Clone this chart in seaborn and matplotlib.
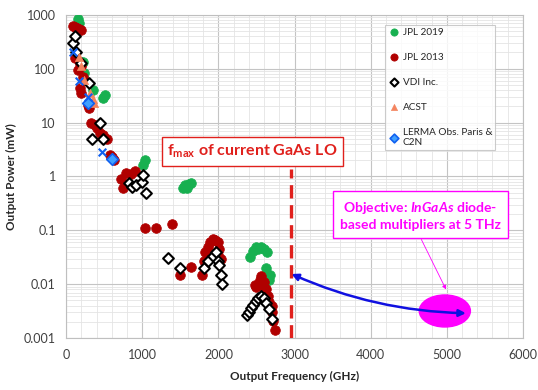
"""Output power vs output frequency of frequency multipliers (log scale)."""

import numpy as np
import pandas as pd
import matplotlib.pyplot as plt
import seaborn as sns
from matplotlib.ticker import MultipleLocator, LogLocator, FuncFormatter
from matplotlib.patches import Ellipse, FancyArrowPatch

# JPL 2019
jpl19_f = [160, 175, 215, 240, 350, 480, 505, 1010, 1030,
           1530, 1560, 1590, 1620, 1640,
           2410, 2450, 2490, 2520, 2560, 2600, 2640, 2630, 2660, 2680]
jpl19_p = [850, 700, 135, 85, 41, 29, 33, 1.6, 2.0,
           0.62, 0.7, 0.6, 0.72, 0.75,
           0.032, 0.042, 0.05, 0.045, 0.05, 0.045, 0.04, 0.02, 0.012, 0.015]

# JPL 2013
jpl13_f = [90, 110, 140, 170, 190, 110, 150, 177, 200, 220, 180, 200, 285, 300,
           330, 375, 400, 440, 480, 530, 580, 600, 630,
           720, 740, 790, 850, 900, 1030, 1180, 1390,
           1490, 1640, 1790, 1810, 1830, 1860, 1890, 1925, 1960, 1990, 2010, 2040, 2000,
           2480, 2500, 2550, 2560, 2580, 2600, 2620, 2650, 2670, 2700, 2710, 2720, 2740]
jpl13_p = [620, 600, 560, 540, 520, 160, 95, 120, 110, 70, 44, 35, 21, 19,
           10, 9, 8, 6.5, 6, 5, 2.5, 2.3, 2.0,
           0.9, 0.6, 1.15, 1.1, 1.25, 0.11, 0.11, 0.13,
           0.015, 0.021, 0.015, 0.027, 0.04, 0.05, 0.06, 0.068, 0.065, 0.06, 0.045, 0.029, 0.035,
           0.0095, 0.009, 0.012, 0.014, 0.0093, 0.011, 0.008, 0.006, 0.0047, 0.004, 0.003, 0.0021, 0.0014]

# VDI Inc.
vdi_f = [90, 110, 135, 200, 300, 440, 345, 480, 830, 870, 920, 990, 1010, 1050,
         1340, 1500, 1810, 1860, 1925, 1970, 1990, 2010, 2040, 2050,
         2370, 2400, 2430, 2450, 2490, 2520, 2560, 2600, 2630, 2670, 2700]
vdi_p = [300, 410, 205, 125, 55, 10, 5, 5, 0.77, 0.65, 0.7, 0.8, 1.05, 0.5,
         0.031, 0.02, 0.02, 0.027, 0.033, 0.039, 0.027, 0.023, 0.015, 0.01,
         0.0027, 0.0031, 0.0036, 0.0042, 0.0048, 0.0055, 0.006, 0.0055, 0.0045, 0.0035, 0.0023]

# ACST
acst_f = [175, 200, 240, 310, 350, 370]
acst_p = [165, 110, 63, 36, 27, 23]

# LERMA Obs. Paris & C2N
lerma_f = [285, 600]
lerma_p = [23, 2.1]
lerma_x_f = [90, 170, 290, 470]
lerma_x_p = [200, 60, 30, 2.8]

fmax_ghz = 2950

sns.set_style("white")
plt.rcParams['font.family'] = ['Lato', 'DejaVu Sans']
plt.rcParams['mathtext.fontset'] = 'custom'
plt.rcParams['mathtext.rm'] = 'Lato'
plt.rcParams['mathtext.bf'] = 'Lato:bold'
plt.rcParams['mathtext.it'] = 'Lato:italic'
plt.rcParams['mathtext.bfit'] = 'Lato:italic:bold'

fig, ax = plt.subplots(figsize=(5.38, 3.9), dpi=100)
fig.subplots_adjust(left=0.123, right=0.972, top=0.962, bottom=0.133)

green = '#17b050'
red = '#b00000'
orange = '#f4845f'
blue = '#1060f0'

sns.scatterplot(x=jpl19_f, y=jpl19_p, ax=ax, color=green, edgecolor=green,
                s=48, marker='o', label='JPL 2019', zorder=3)
sns.scatterplot(x=jpl13_f, y=jpl13_p, ax=ax, color=red, edgecolor=red,
                s=48, marker='o', label='JPL 2013', zorder=3)
sns.scatterplot(x=vdi_f, y=vdi_p, ax=ax, color='white', edgecolor='black',
                linewidth=1.5, s=30, marker='D', label='VDI Inc.', zorder=4)
sns.scatterplot(x=acst_f, y=acst_p, ax=ax, color=orange, edgecolor=orange,
                s=35, marker='^', label='ACST', zorder=4)
sns.scatterplot(x=lerma_f, y=lerma_p, ax=ax, color='#3fa0ff', edgecolor=blue,
                linewidth=1.2, s=35, marker='D', label='LERMA Obs. Paris &\nC2N', zorder=5)
sns.scatterplot(x=lerma_x_f, y=lerma_x_p, ax=ax, color=blue,
                s=30, marker='x', linewidth=1.5, legend=False, zorder=5)

ax.set_yscale('log')
ax.set_xlim(0, 6000)
ax.set_ylim(0.001, 1000)
ax.xaxis.set_major_locator(MultipleLocator(1000))
ax.xaxis.set_minor_locator(MultipleLocator(200))
ax.yaxis.set_minor_locator(LogLocator(base=10, subs=np.arange(2, 10)))
ax.yaxis.set_major_formatter(FuncFormatter(lambda v, _: '{:g}'.format(v)))
ax.grid(which='major', color='#c4c4c4', lw=0.8)
ax.grid(which='minor', color='#e4e4e4', lw=0.6)
ax.set_axisbelow(True)
for s in ax.spines.values():
    s.set_color('#bfbfbf')
ax.tick_params(axis='y', which='major', length=4, color='#bfbfbf', labelsize=9, labelcolor='#404040')
ax.tick_params(axis='y', which='minor', length=0)
ax.tick_params(axis='x', which='both', length=0, labelsize=9, labelcolor='#404040', pad=8)

ax.set_xlabel('Output Frequency (GHz)', fontsize=8.5, fontweight='bold', labelpad=7)
ax.set_ylabel('Output Power (mW)', fontsize=8.5, fontweight='bold', labelpad=5)

leg = ax.legend(loc='upper left', bbox_to_anchor=(0.687, 0.985), fontsize=7.2,
                frameon=True, fancybox=False, edgecolor='#bfbfbf', labelspacing=1.6,
                handletextpad=0.3, handlelength=1.2, borderpad=0.3, markerscale=0.75)
leg.get_frame().set_linewidth(0.8)

# f_max of current GaAs LO
ax.vlines(fmax_ghz, 0.001, 1.35, colors='#e0201c', linestyles=(0, (4, 2)), lw=2.4, zorder=6)
ax.text(2450, 2.9, r'$\mathbf{f_{max}}$ of current GaAs LO', color='#e0201c',
        fontsize=11.5, fontweight='bold', ha='center', va='center',
        bbox=dict(boxstyle='square,pad=0.35', fc='white', ec='#e0201c', lw=1))

# objective
ax.add_patch(Ellipse((0.829, 0.084), 0.112, 0.099, transform=ax.transAxes,
                     color='#ff00ff', zorder=5))
ax.add_patch(FancyArrowPatch((2960, 0.0155), (5250, 0.0029), arrowstyle='<|-|>',
                             color='#1010e0', lw=1.8, mutation_scale=10,
                             shrinkA=0, shrinkB=0, connectionstyle='arc3,rad=0.1',
                             zorder=7))
ax.add_patch(FancyArrowPatch((4665, 0.068), (4990, 0.008), arrowstyle='-|>',
                             color='#ff00ff', lw=0.6, mutation_scale=6,
                             shrinkA=0, shrinkB=0, zorder=7))
ax.text(4650, 0.19, 'Objective: $\\mathbfit{InGaAs}$ diode-\nbased multipliers at 5 THz',
        color='#ff00ff', fontsize=10, fontweight='bold', ha='center', va='center',
        linespacing=1.3,
        bbox=dict(boxstyle='square,pad=0.5', fc='white', ec='#ff00ff', lw=1))

plt.savefig('out.png', dpi=100)
